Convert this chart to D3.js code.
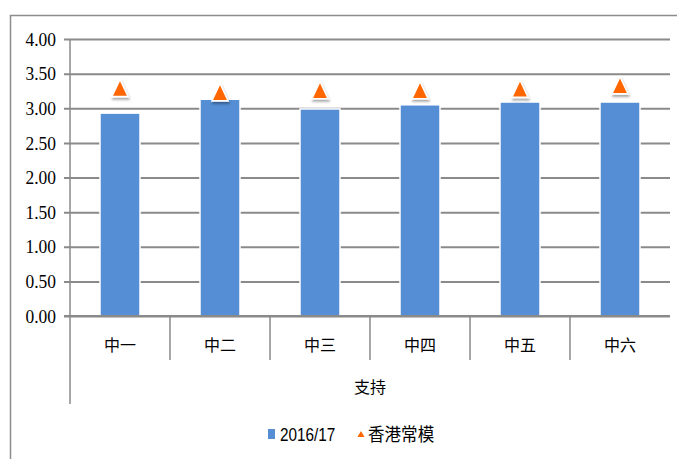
<!DOCTYPE html>
<html><head><meta charset="utf-8">
<script src="https://cdn.jsdelivr.net/npm/d3@7"></script>
<style>body{margin:0;background:#fff;}svg{display:block;} .tl{font-family:"Liberation Serif","Times New Roman",serif !important;}</style>
</head><body>
<svg id="c" width="677" height="459"></svg>
<script>
const categories = ["中一","中二","中三","中四","中五","中六"];
const groupLabel = "支持";
const barValues = [2.93, 3.13, 2.99, 3.05, 3.09, 3.09];
const normValues = [3.25, 3.19, 3.22, 3.22, 3.24, 3.29];
const yTicks = [0, 0.5, 1, 1.5, 2, 2.5, 3, 3.5, 4];
const seriesNames = ["2016/17", "香港常模"];

const svg = d3.select("#c");
const defs = svg.append("defs");
const f = defs.append("filter").attr("id","sh").attr("x","-50%").attr("y","-50%").attr("width","200%").attr("height","200%");
f.append("feDropShadow").attr("dx",1).attr("dy",2).attr("stdDeviation",1.2).attr("flood-color","#000").attr("flood-opacity",0.35);

// outer border
svg.append("rect").attr("x",10.5).attr("y",15.5).attr("width",700).attr("height",500)
  .attr("fill","none").attr("stroke","#8c8c8c").attr("stroke-width",1.5);

const L = 70, R = 670, T = 39, B = 316;
const x = d3.scaleBand().domain(categories).range([L,R]).paddingInner(0).paddingOuter(0);
const y = d3.scaleLinear().domain([0,4]).range([B,T]);
const grid = "#8a8a8a";
const fmt = d3.format(".2f");

// gridlines (axis generator for lines)
const yAxis = d3.axisLeft(y).tickValues(yTicks).tickFormat("").tickSize(-(R-L));
const gy = svg.append("g").attr("transform",`translate(${L},0)`).call(yAxis);
gy.select(".domain").remove();
gy.selectAll(".tick line").attr("stroke",grid).attr("stroke-width",2).attr("x1",-6);
gy.selectAll(".tick text").remove();

// tick labels
svg.append("g").selectAll("text").data(yTicks).join("text")
  .attr("class","tl")
  .attr("transform",d=>`translate(56,${y(d)}) scale(0.92,1)`).attr("dy","0.35em").attr("text-anchor","end")
  .attr("font-size",19).attr("fill","#000")
  .text(d=>fmt(d));

// left axis line and category separators
svg.append("line").attr("x1",L).attr("x2",L).attr("y1",T).attr("y2",404).attr("stroke",grid).attr("stroke-width",1.5);
categories.slice(1).forEach(c=>{
  svg.append("line").attr("x1",x(c)).attr("x2",x(c)).attr("y1",B).attr("y2",360).attr("stroke",grid).attr("stroke-width",1.5);
});

// bars
const bw = 40;
svg.append("g").selectAll("rect").data(barValues).join("rect")
  .attr("x",(d,i)=>x(categories[i])+x.bandwidth()/2-bw/2)
  .attr("y",d=>y(d)).attr("width",bw).attr("height",d=>B-y(d))
  .attr("fill","#558ed5").attr("stroke","#fff").attr("stroke-width",1.5);

// x axis line
svg.append("line").attr("x1",L-6).attr("x2",R).attr("y1",B).attr("y2",B).attr("stroke",grid).attr("stroke-width",2);

// triangles
const tri = d3.symbol().type(d3.symbolTriangle).size(140);
svg.append("g").selectAll("path").data(normValues).join("path")
  .attr("d",tri)
  .attr("transform",(d,i)=>`translate(${x(categories[i])+x.bandwidth()/2},${y(d)}) scale(0.9,1.1)`)
  .attr("fill","#ff6600").attr("stroke","#fff").attr("stroke-width",1.5).attr("filter","url(#sh)");

// category labels
const cjk = "Noto Sans CJK SC";
svg.append("g").selectAll("text").data(categories).join("text")
  .attr("x",d=>x(d)+x.bandwidth()/2).attr("y",351).attr("text-anchor","middle")
  .attr("font-family",cjk).attr("font-size",16).attr("fill","#000").text(d=>d);
svg.append("text").attr("x",(L+R)/2).attr("y",393).attr("text-anchor","middle")
  .attr("font-family",cjk).attr("font-size",16).attr("fill","#000").text(groupLabel);

// legend
const lg = svg.append("g");
lg.append("rect").attr("x",268).attr("y",429).attr("width",7).attr("height",10).attr("fill","#558ed5");
lg.append("text").attr("transform","translate(280,441) scale(0.85,1)").attr("font-family","Liberation Sans")
  .attr("font-size",18).attr("fill","#000").text(seriesNames[0]);
lg.append("path").attr("d",d3.symbol().type(d3.symbolTriangle).size(22)).attr("transform","translate(361,435)").attr("fill","#ff6600");
lg.append("text").attr("transform","translate(368,441) scale(0.92,1)").attr("font-family",cjk).attr("font-size",18).attr("fill","#000").text(seriesNames[1]);
</script>
</body></html>
